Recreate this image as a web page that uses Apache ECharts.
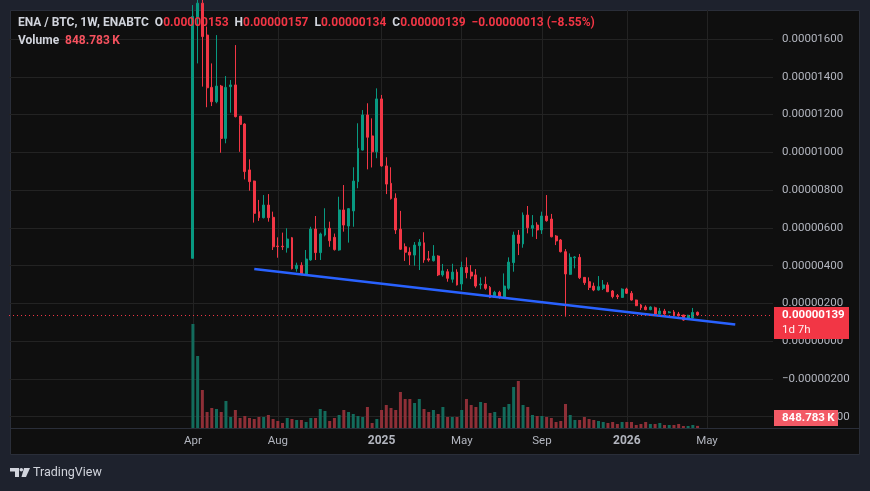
<!DOCTYPE html>
<html><head><meta charset="utf-8">
<script src="https://cdn.jsdelivr.net/npm/echarts@6/dist/echarts.min.js"></script>
<style>html,body{margin:0;padding:0;background:#1e222d;}#c{width:870px;height:491px;}</style>
</head><body><div id="c"></div>
<script>
// ENA / BTC weekly candles; prices in units of 1e-6 BTC, week 0 = 2024-04-01
const opens = [
  4.39, 17.15, 17.9, 16.21, 13.44, 12.68, 13.51, 10.74, 13.48, 13.57,
  11.92, 11.50, 9.07, 8.48, 6.86, 6.54, 7.21, 6.56, 5.04, 5.03,
  4.95, 5.48, 3.84, 4.02, 3.56, 4.30, 5.94, 4.69, 5.62, 5.98,
  5.50, 4.83, 6.95, 6.10, 6.90, 8.45, 10.12, 11.98, 10.87, 10.03,
  12.83, 9.28, 8.36, 7.57, 5.93, 5.00, 4.72, 4.56, 5.06, 5.21,
  4.36, 4.26, 4.51, 3.51, 3.68, 3.28, 3.66, 3.03, 3.91, 3.66,
  3.51, 2.98, 3.01, 2.85, 2.32, 2.59, 2.32, 2.80, 4.16, 5.62,
  5.15, 6.68, 5.98, 6.15, 5.89, 6.63, 6.47, 5.57, 5.36, 4.74,
  3.54, 4.42, 4.44, 3.38, 3.15, 2.92, 2.71, 2.80, 2.98, 2.66,
  2.41, 2.32, 2.76, 2.54, 2.18, 1.92, 1.81, 1.67, 1.77, 1.44,
  1.60, 1.51, 1.55, 1.44, 1.39, 1.16, 1.23, 1.53
];
const highs = [
  17.8, 18.3, 18.2, 16.66, 14.71, 16.21, 13.57, 14.04, 13.83, 15.68,
  11.92, 11.54, 9.63, 8.50, 7.48, 7.74, 7.79, 6.86, 5.50, 5.75,
  5.98, 5.52, 4.16, 4.18, 4.83, 6.06, 6.63, 5.75, 7.04, 6.33,
  5.70, 7.65, 8.27, 7.05, 9.21, 11.54, 12.24, 12.60, 11.80, 13.39,
  13.04, 9.74, 9.21, 7.83, 6.90, 5.18, 4.97, 5.25, 5.41, 5.77,
  4.78, 5.09, 4.55, 4.09, 3.82, 4.10, 3.81, 4.21, 4.44, 4.03,
  3.82, 3.38, 3.42, 2.92, 2.67, 2.67, 3.59, 4.44, 5.80, 5.89,
  6.82, 7.16, 6.68, 6.30, 6.86, 7.74, 6.74, 5.62, 5.41, 4.88,
  4.65, 4.51, 4.62, 3.40, 3.38, 3.10, 3.45, 3.24, 3.12, 2.71,
  2.50, 2.80, 2.83, 2.66, 2.20, 1.97, 1.90, 1.85, 1.83, 1.76,
  1.71, 1.60, 1.65, 1.55, 1.40, 1.40, 1.76, 1.57
];
const lows = [
  4.39, 14.71, 13.48, 12.39, 12.45, 12.60, 9.98, 10.48, 12.10, 11.85,
  10.03, 8.57, 7.97, 6.28, 6.37, 6.50, 6.33, 4.83, 4.42, 4.83,
  4.69, 3.80, 3.68, 3.49, 3.52, 4.26, 4.30, 4.30, 5.55, 5.00,
  4.80, 4.79, 5.80, 5.22, 6.06, 8.10, 10.10, 9.10, 9.20, 9.69,
  9.24, 7.79, 7.50, 5.68, 4.83, 4.25, 4.03, 4.00, 3.77, 4.15,
  4.21, 4.22, 3.45, 3.42, 3.15, 3.10, 2.95, 2.71, 3.33, 3.29,
  2.83, 2.75, 2.72, 2.28, 2.30, 2.25, 2.28, 2.72, 3.68, 4.56,
  4.95, 5.71, 5.53, 5.41, 5.68, 6.33, 5.50, 5.09, 4.70, 1.30,
  3.51, 3.86, 3.29, 2.98, 2.71, 2.65, 2.68, 2.71, 2.60, 2.27,
  2.23, 2.30, 2.50, 2.15, 1.86, 1.65, 1.64, 1.64, 1.42, 1.42,
  1.40, 1.48, 1.32, 1.30, 1.08, 1.13, 1.20, 1.34
];
const closes = [
  17.19, 17.9, 16.13, 13.42, 12.68, 13.51, 10.74, 13.44, 13.57, 11.89,
  11.48, 8.98, 8.45, 6.77, 6.54, 7.21, 6.54, 5.00, 5.01, 5.00,
  5.41, 3.84, 4.02, 3.54, 4.35, 5.94, 4.69, 5.68, 5.98, 5.32,
  4.85, 6.95, 6.15, 7.02, 8.48, 10.21, 11.98, 10.80, 10.03, 12.83,
  9.28, 8.32, 7.55, 5.89, 4.87, 4.71, 4.56, 5.09, 5.24, 4.30,
  4.30, 4.51, 3.51, 3.72, 3.33, 3.66, 2.98, 3.91, 3.63, 3.45,
  2.92, 3.03, 2.80, 2.32, 2.59, 2.32, 2.92, 4.19, 5.62, 5.18,
  6.68, 6.01, 6.13, 5.89, 6.63, 6.38, 5.53, 5.31, 4.74, 3.56,
  4.44, 4.46, 3.36, 3.10, 2.85, 2.71, 2.89, 2.98, 2.62, 2.36,
  2.36, 2.76, 2.54, 2.18, 1.88, 1.77, 1.67, 1.81, 1.44, 1.60,
  1.44, 1.55, 1.35, 1.35, 1.12, 1.37, 1.52, 1.39
];
// weekly volume, thousands
const volumesK = [
  41600, 28800, 15200, 6400, 8000, 7600, 6400, 10800, 4400, 7200,
  4000, 4800, 4000, 3600, 4400, 4400, 5200, 3600, 2800, 2000,
  4000, 3600, 3200, 3200, 2400, 4000, 4000, 7600, 6800, 2800,
  4000, 5200, 7200, 6400, 5600, 4800, 4400, 8400, 2000, 3600,
  7200, 9200, 8000, 7200, 14400, 11600, 11600, 10000, 11600, 7600,
  6400, 7200, 5600, 8400, 4400, 4400, 4400, 7200, 11600, 9200,
  8400, 10400, 10000, 6000, 6400, 4000, 8400, 9600, 16400, 18800,
  9200, 8400, 5200, 4800, 4800, 4400, 4000, 2400, 2800, 9600,
  5200, 3200, 3200, 4400, 3600, 3200, 2800, 2400, 2000, 2400,
  1600, 2400, 2400, 2400, 1200, 1600, 2400, 1600, 1600, 2000,
  1200, 1200, 1200, 1600, 800, 800, 1200, 848.783
];
const xTickLabels = [
  ['2024-04-01', 'Apr'], ['2024-08-05', 'Aug'], ['2025-01-06', '2025'],
  ['2025-05-05', 'May'], ['2025-09-01', 'Sep'], ['2026-01-05', '2026'], ['2026-05-04', 'May']
];
const priceTicks = [-4, -2, 0, 2, 4, 6, 8, 10, 12, 14, 16];
const trendline = [[13, 3.82], [115, 0.88]]; // [week index, price]
const countdown = '1d 7h';

const FONT = 'Roboto, "Liberation Sans", sans-serif';
const UP = '#089981', DOWN = '#f23645';
const VOL_UP = '#136b5c', VOL_DOWN = '#8e2f37';
const GRID = '#232323', TXT = '#b2b5be';
const CLEAR = 'rgba(0,0,0,0)';

const weekDate = k => new Date(Date.UTC(2024, 3, 1) + k * 604800000).toISOString().slice(0, 10);
const categories = [];
for (let k = -39; k <= 123; k++) categories.push(weekDate(k));
const fmtPrice = v => (v * 1e-6).toFixed(8).replace('-', '\u2212');
const labelMap = new Map(xTickLabels);

const n = closes.length - 1;
const lastC = closes[n], prevC = closes[n - 1];
const chg = lastC - prevC;
const pct = (chg / prevC * 100).toFixed(2).replace('-', '\u2212');
const lastVol = volumesK[n];

const candleData = opens.map((o, k) => [weekDate(k), o, closes[k], lows[k], highs[k]]);
const volData = volumesK.map((v, k) => ({
  value: [weekDate(k), v],
  itemStyle: { color: closes[k] >= opens[k] ? VOL_UP : VOL_DOWN }
}));
const trendData = trendline.map(([k, v]) => [weekDate(k), v]);

const header1 = '{n|ENA / BTC, 1W, ENABTC}  {l|O}{v|' + fmtPrice(opens[n]) + '}  {l|H}{v|' + fmtPrice(highs[n]) +
  '}  {l|L}{v|' + fmtPrice(lows[n]) + '}  {l|C}{v|' + fmtPrice(lastC) + '}  {v|' + fmtPrice(chg) + ' (' + pct + '%)}';
const header2 = '{l|Volume}  {w|' + lastVol.toFixed(3) + '\u2009K}';
const richH = {
  n: { color: '#d1d4dc', fontSize: 12, fontFamily: FONT },
  l: { color: '#d1d4dc', fontSize: 12, fontFamily: FONT },
  v: { color: '#f23645', fontSize: 12, fontFamily: FONT },
  w: { color: '#f7525f', fontSize: 12, fontFamily: FONT }
};

const chart = echarts.init(document.getElementById('c'));
chart.setOption({
  animation: false,
  backgroundColor: '#1e222d',
  textStyle: { fontFamily: FONT },
  title: [
    { left: 18, top: 17, padding: 0, text: header1, textStyle: { rich: richH, fontSize: 12 } },
    { left: 18, top: 35, padding: 0, text: header2, textStyle: { rich: richH, fontSize: 12 } }
  ],
  graphic: [
    { type: 'rect', z: -100, shape: { x: 10.5, y: 10.5, width: 849, height: 444 },
      style: { fill: '#0f0f0f', stroke: '#2a2e39', lineWidth: 1 } },
    { type: 'line', z: 100, shape: { x1: 10, y1: 428.5, x2: 859, y2: 428.5 },
      style: { stroke: '#2a2e39', lineWidth: 1 } },
    { type: 'polygon', shape: { points: [[10, 468], [19, 468], [19, 477], [15, 477], [15, 471.5], [10, 471.5]] },
      style: { fill: '#d1d4dc' } },
    { type: 'circle', shape: { cx: 21.3, cy: 469.8, r: 1.8 }, style: { fill: '#d1d4dc' } },
    { type: 'polygon', shape: { points: [[24, 468], [30, 468], [26, 477], [21.5, 477]] },
      style: { fill: '#d1d4dc' } },
    { type: 'text', x: 33, y: 466, style: { text: 'TradingView', fill: '#d1d4dc', font: '12.5px ' + FONT } }
  ],
  grid: { left: 9, right: 97, top: 10, bottom: 63, show: false },
  xAxis: {
    type: 'category', data: categories, boundaryGap: false,
    axisLine: { show: false }, axisTick: { show: false },
    axisLabel: {
      interval: (i, val) => labelMap.has(val),
      formatter: val => { const t = labelMap.get(val) || ''; return /^\d{4}$/.test(t) ? '{y|' + t + '}' : t; },
      color: TXT, fontSize: 11.5, fontFamily: FONT, margin: 7,
      rich: { y: { color: TXT, fontSize: 12, fontWeight: 'bold', fontFamily: FONT } }
    },
    splitLine: { show: true, interval: (i, val) => labelMap.has(val), lineStyle: { color: GRID, width: 1 } }
  },
  yAxis: [
    {
      type: 'value', position: 'right', min: -4.596, max: 17.538,
      axisLine: { show: false },
      axisTick: { show: false, customValues: priceTicks },
      axisLabel: { customValues: priceTicks, formatter: fmtPrice, color: TXT, fontSize: 11.5, fontFamily: FONT, margin: 9 },
      splitLine: { show: true, lineStyle: { color: GRID, width: 1 } }
    },
    { type: 'value', min: 0, max: 167200, show: false, splitLine: { show: false } }
  ],
  series: [
    {
      type: 'bar', yAxisIndex: 1, data: volData, barWidth: 3, z: 1, silent: true
    },
    {
      type: 'candlestick', data: candleData, encode: { x: 0, y: [1, 2, 3, 4] },
      barWidth: 2.4, clip: true, z: 2, silent: true,
      itemStyle: { color: UP, color0: DOWN, borderColor: UP, borderColor0: DOWN, borderWidth: 1 }
    },
    {
      type: 'line', data: trendData, symbol: 'none', z: 3, silent: true,
      lineStyle: { color: '#2962ff', width: 2.5 }
    },
    {
      type: 'line', data: [], clip: false, z: 5, silent: true,
      markLine: {
        symbol: ['none', 'none'], silent: true, animation: false,
        data: [
          { yAxis: lastC, lineStyle: { color: CLEAR, width: 1 },
            label: { show: true, opacity: 1, position: 'end', distance: 1, formatter: countdown, align: 'left', verticalAlign: 'top',
              color: 'rgba(255,255,255,0.92)', fontSize: 11.5, fontFamily: FONT, lineHeight: 14,
              backgroundColor: DOWN, width: 61, padding: [8, 6, 2, 8] } },
          { yAxis: lastC, lineStyle: { color: DOWN, type: [1, 3], width: 1, opacity: 1 },
            label: { show: true, opacity: 1, position: 'end', distance: 1, formatter: fmtPrice(lastC), align: 'left', verticalAlign: 'middle',
              color: '#ffffff', fontSize: 11.5, fontWeight: 'bold', fontFamily: FONT, lineHeight: 14,
              backgroundColor: DOWN, width: 61, padding: [1, 6, 1, 8] } }
        ]
      }
    },
    {
      type: 'line', yAxisIndex: 1, data: [], clip: false, z: 5, silent: true,
      markLine: {
        symbol: ['none', 'none'], silent: true, animation: false,
        data: [
          { yAxis: lastVol, lineStyle: { color: CLEAR, width: 1 },
            label: { show: true, opacity: 1, position: 'end', distance: 1, formatter: lastVol.toFixed(3) + '\u2009K', align: 'left', verticalAlign: 'bottom',
              color: '#ffffff', fontSize: 11.5, fontWeight: 'bold', fontFamily: FONT, lineHeight: 14,
              backgroundColor: '#f35a66', width: 54, padding: [1, 2, 1, 8] } }
        ]
      }
    }
  ]
});
</script>
</body></html>
